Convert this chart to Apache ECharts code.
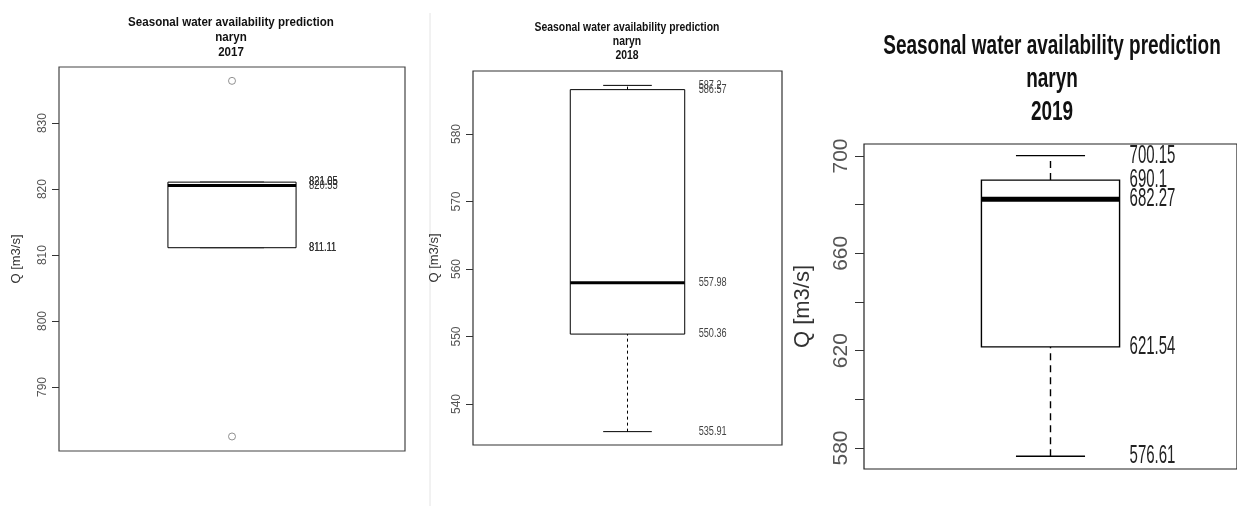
<!DOCTYPE html>
<html>
<head>
<meta charset="utf-8">
<script src="https://cdn.jsdelivr.net/npm/echarts@6/dist/echarts.min.js"></script>
<style>
html,body{margin:0;padding:0;background:#fff;}
#chart{width:1237px;height:506px;}
</style>
</head>
<body>
<div id="chart"></div>
<script>
// ---- data ----
const river = 'naryn';
const years = ['2017', '2018', '2019'];
const titleText = 'Seasonal water availability prediction';
const yName = 'Q [m3/s]';
// [lower whisker, Q1, median, Q3, upper whisker]
const stats2017 = [811.11, 811.11, 820.55, 821.05, 821.05];
const stats2018 = [535.91, 550.36, 557.98, 586.57, 587.2];
const stats2019 = [576.61, 621.54, 682.27, 690.1, 700.15];
const outliers2017 = [836.4, 782.5];
const ticks2017 = [790, 800, 810, 820, 830];
const ticks2018 = [540, 550, 560, 570, 580];
const ticks2019 = [580, 600, 620, 640, 660, 680, 700];
const tickLabels2019 = [580, 620, 660, 700];

const FONT = 'Liberation Sans, Arial, sans-serif';

const panelCfg = [
  {grid:{left:59, top:67, width:346, height:384}, yMin:780.3, yMax:838.5,
   ticks:ticks2017, labels:ticks2017, tickLen:7, axisFont:12, labelMargin:10, nameGap:36, nameFont:13,
   frame:'#444', box:{hw:0.2, sw:0.1, lw:1, medW:3, dash:[3,3], dx:13, fs:12, sx:0.78, color:'#333'},
   title:{x:231, ys:[22,37,52], fs:13, sx:0.89}},
  {grid:{left:473, top:71, width:309, height:374}, yMin:533.93, yMax:589.33,
   ticks:ticks2018, labels:ticks2018, tickLen:7, axisFont:12, labelMargin:10, nameGap:32, nameFont:13,
   frame:'#333', box:{hw:0.2, sw:0.085, lw:1, medW:3, dash:[3,3], dx:14, fs:12, sx:0.76, color:'#444'},
   title:{x:627, ys:[28,42,56], fs:12, sx:0.866}},
  {grid:{left:864, top:144, width:378, height:325}, yMin:571.37, yMax:704.93,
   ticks:ticks2019, labels:tickLabels2019, tickLen:9, axisFont:21, labelMargin:12, nameGap:50, nameFont:22,
   frame:'#222', box:{hw:0.2, sw:0.1, lw:1.4, medW:5, dash:[7,5], dx:10, fs:25, sx:0.6, color:'#222'},
   title:{x:1052, ys:[47,80,113], fs:27, sx:0.703}}
];
const allStats = [stats2017, stats2018, stats2019];

function makeRender(b){
  return function(params, api){
    const cx = api.value(0);
    const lo = api.value(1), q1 = api.value(2), med = api.value(3), q3 = api.value(4), hi = api.value(5);
    const c = (x, y) => api.coord([x, y]);
    const stroke = '#000';
    const children = [];
    const dashLine = (a, d) => ({type:'line', shape:{x1:a[0], y1:a[1], x2:d[0], y2:d[1]},
      style:{stroke, lineWidth:b.lw, lineDash:b.dash}});
    const solid = (a, d, w) => ({type:'line', shape:{x1:a[0], y1:a[1], x2:d[0], y2:d[1]},
      style:{stroke, lineWidth:w || b.lw}});
    if (hi > q3) children.push(dashLine(c(cx, q3), c(cx, hi)));
    if (lo < q1) children.push(dashLine(c(cx, lo), c(cx, q1)));
    children.push(solid(c(cx - b.sw, hi), c(cx + b.sw, hi)));
    children.push(solid(c(cx - b.sw, lo), c(cx + b.sw, lo)));
    const tl = c(cx - b.hw, q3), br = c(cx + b.hw, q1);
    children.push({type:'rect', shape:{x:tl[0], y:tl[1], width:br[0]-tl[0], height:br[1]-tl[1]},
      style:{fill:'#fff', stroke, lineWidth:b.lw}});
    children.push(solid(c(cx - b.hw, med), c(cx + b.hw, med), b.medW));
    [hi, q3, med, q1, lo].forEach(v => {
      const p = c(cx + b.hw, v);
      children.push({type:'text', x:p[0] + b.dx, y:p[1], scaleX:b.sx,
        style:{text:String(v), fontFamily:FONT, fontSize:b.fs, fill:b.color, align:'left', verticalAlign:'middle'}});
    });
    return {type:'group', children};
  };
}

const graphics = [{type:'line', shape:{x1:430, y1:13, x2:430, y2:506}, style:{stroke:'#e4e4e4', lineWidth:1}}];
panelCfg.forEach((p, i) => {
  const lines = [titleText, river, years[i]];
  lines.forEach((t, k) => {
    graphics.push({type:'text', x:p.title.x, y:p.title.ys[k], scaleX:p.title.sx,
      style:{text:t, fontFamily:FONT, fontWeight:'bold', fontSize:p.title.fs, fill:'#111', align:'center', verticalAlign:'middle'}});
  });
});

const option = {
  animation:false,
  backgroundColor:'#fff',
  grid: panelCfg.map(p => Object.assign({show:true, borderColor:p.frame, borderWidth:1.2, backgroundColor:'transparent', containLabel:false}, p.grid)),
  xAxis: panelCfg.map((p, i) => ({gridIndex:i, type:'value', min:0.46, max:1.54, show:false})),
  yAxis: panelCfg.map((p, i) => ({
    gridIndex:i, type:'value', min:p.yMin, max:p.yMax,
    axisLine:{show:false}, splitLine:{show:false},
    axisTick:{show:true, customValues:p.ticks, length:p.tickLen, lineStyle:{color:'#333', width:1}},
    axisLabel:{customValues:p.labels, rotate:90, fontSize:p.axisFont, color:'#555', margin:p.labelMargin, fontFamily:FONT},
    name:yName, nameLocation:'middle', nameRotate:90, nameGap:p.nameGap,
    nameTextStyle:{fontSize:p.nameFont, color:'#333', fontFamily:FONT}
  })),
  series: [
    ...panelCfg.map((p, i) => ({
      type:'custom', xAxisIndex:i, yAxisIndex:i, clip:false,
      renderItem:makeRender(p.box),
      encode:{x:0, y:[1,2,3,4,5]},
      data:[[1, ...allStats[i]]]
    })),
    {type:'scatter', xAxisIndex:0, yAxisIndex:0, symbol:'circle', symbolSize:7,
     itemStyle:{color:'#fff', borderColor:'#777', borderWidth:1},
     data:outliers2017.map(v => [1, v])}
  ],
  graphic: graphics
};

const chart = echarts.init(document.getElementById('chart'), null, {renderer:'canvas'});
chart.setOption(option);
</script>
</body>
</html>
